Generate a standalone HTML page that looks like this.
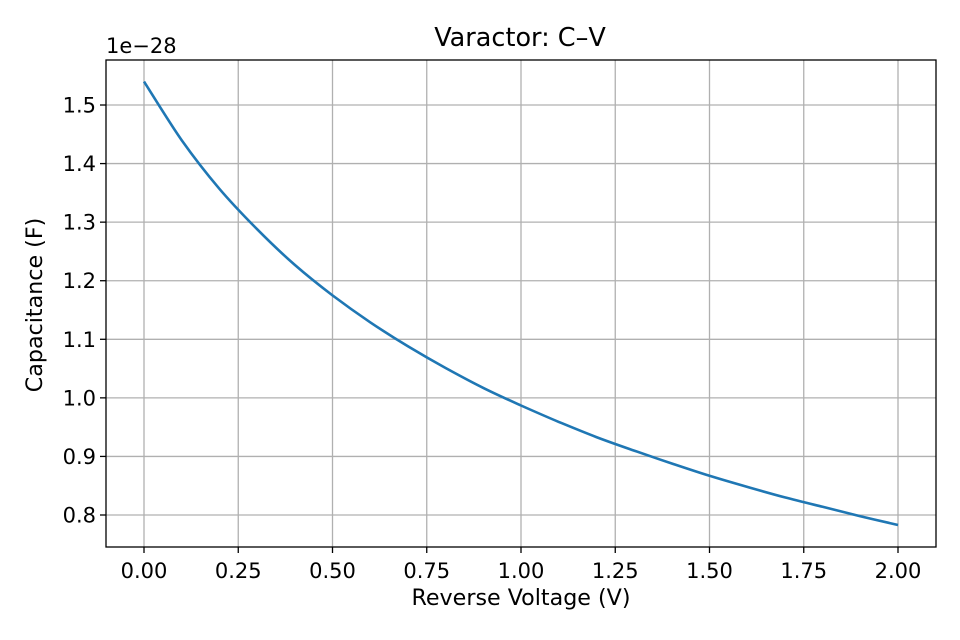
<!DOCTYPE html>
<html><head><meta charset="utf-8"><style>
body{margin:0;background:#fff}
svg{display:block;font-family:"DejaVu Sans","Liberation Sans",sans-serif}
</style></head><body>
<svg id="chart" width="960" height="640" viewBox="0 0 960 640">
<rect width="960" height="640" fill="#fff"/>
<g id="grid"></g><g id="ticks"></g>
<path id="line" fill="none" stroke="#1f77b4" stroke-width="2.6" stroke-linejoin="round"/>
<rect x="106" y="60" width="830" height="487" fill="none" stroke="#000" stroke-width="1.3"/>
<text x="520" y="46" font-size="25.5" text-anchor="middle">Varactor: C–V</text>
<text x="521" y="605" font-size="22.2" text-anchor="middle">Reverse Voltage (V)</text>
<text transform="translate(42,305) rotate(-90)" font-size="22.2" text-anchor="middle">Capacitance (F)</text>
<text x="106" y="53" font-size="21">1e−28</text>
</svg>
<script>
const voltages=[0,0.1,0.2,0.3,0.4,0.5,0.6,0.7,0.8,0.9,1.0,1.1,1.2,1.3,1.4,1.5,1.6,1.7,1.8,1.9,2.0];
const capacitance=[1.540,1.440,1.357,1.288,1.227,1.175,1.129,1.088,1.051,1.017,0.987,0.959,0.933,0.910,0.888,0.867,0.848,0.830,0.814,0.798,0.783];
const xTicks=[0,0.25,0.5,0.75,1.0,1.25,1.5,1.75,2.0];
const xTickLabels=["0.00","0.25","0.50","0.75","1.00","1.25","1.50","1.75","2.00"];
const yTicks=[0.8,0.9,1.0,1.1,1.2,1.3,1.4,1.5];
const yTickLabels=["0.8","0.9","1.0","1.1","1.2","1.3","1.4","1.5"];
const L=106,R=936,T=60,B=547;
function xs(v){return 144+v*377;}
function ys(v){return 515-(v-0.8)*585.7;}
const NS="http://www.w3.org/2000/svg";
const grid=document.getElementById('grid'),ticks=document.getElementById('ticks');
function mk(tag,attrs,parent,txt){const e=document.createElementNS(NS,tag);for(const k in attrs)e.setAttribute(k,attrs[k]);if(txt!==undefined)e.textContent=txt;parent.appendChild(e);return e;}
xTicks.forEach((t,i)=>{const x=xs(t);
 const g=mk('line',{x1:x,x2:x,y1:T,y2:B,stroke:'#b0b0b0','stroke-width':1.3},grid);
 
 
 mk('line',{x1:x,x2:x,y1:B,y2:B+6,stroke:'#000','stroke-width':1.3},ticks);
 const tx=mk('text',{x:x,y:B+31,'font-size':21,'text-anchor':'middle'},ticks,xTickLabels[i]);
 
 
});
yTicks.forEach((t,i)=>{const y=ys(t);
 const g=mk('line',{x1:L,x2:R,y1:y,y2:y,stroke:'#b0b0b0','stroke-width':1.3},grid);
 
 
 mk('line',{x1:L-6,x2:L,y1:y,y2:y,stroke:'#000','stroke-width':1.3},ticks);
 const tx=mk('text',{x:L-10,y:y+7.5,'font-size':21,'text-anchor':'end'},ticks,yTickLabels[i]);
 
 
});
const pts=voltages.map((v,i)=>[xs(v),ys(capacitance[i])]);
let d='M'+pts[0][0]+','+pts[0][1];
for(let i=0;i<pts.length-1;i++){
 const p0=pts[Math.max(i-1,0)],p1=pts[i],p2=pts[i+1],p3=pts[Math.min(i+2,pts.length-1)];
 d+=' C'+(p1[0]+(p2[0]-p0[0])/6).toFixed(1)+','+(p1[1]+(p2[1]-p0[1])/6).toFixed(1)+' '+(p2[0]-(p3[0]-p1[0])/6).toFixed(1)+','+(p2[1]-(p3[1]-p1[1])/6).toFixed(1)+' '+p2[0].toFixed(1)+','+p2[1].toFixed(1);
}
document.getElementById('line').setAttribute('d',d);
</script>
</body></html>
